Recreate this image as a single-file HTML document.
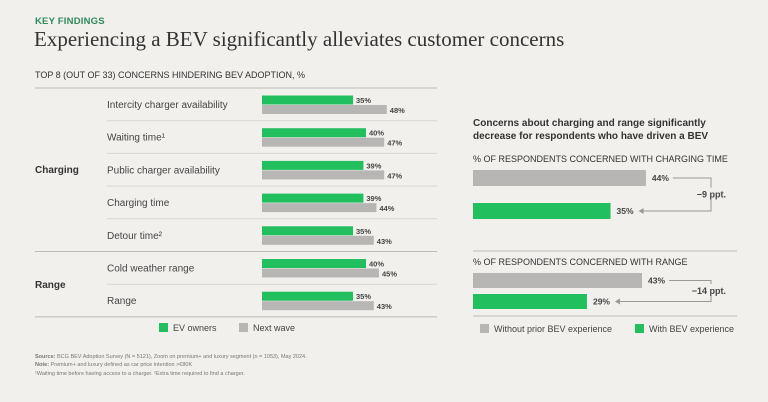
<!DOCTYPE html>
<html><head><meta charset="utf-8">
<style>
body{margin:0;background:#f2f0ed;font-family:"Liberation Sans",sans-serif;}
#root{position:relative;width:768px;height:402px;overflow:hidden;background:#f2f0ed;}
.t{position:absolute;white-space:nowrap;}
</style></head>
<body>
<div id="root">
<div class="t" style="left:35px;top:16px;font-size:9.5px;font-weight:bold;color:#2d8a5a;letter-spacing:0.2px">KEY FINDINGS</div>
<div class="t" style="left:34px;top:27px;font-family:'Liberation Serif',serif;font-size:21px;color:#333">Experiencing a BEV significantly alleviates customer concerns</div>
<div class="t" style="left:35px;top:70px;font-size:9px;color:#333">TOP 8 (OUT OF 33) CONCERNS HINDERING BEV ADOPTION, %</div>
<svg id="chart" width="768" height="402" style="position:absolute;left:0;top:0"></svg>
<div class="t" style="left:473px;top:117px;font-size:10px;font-weight:bold;color:#333;line-height:13px">Concerns about charging and range significantly<br>decrease for respondents who have driven a BEV</div>
<div class="t" style="left:473px;top:154px;font-size:9px;color:#333">% OF RESPONDENTS CONCERNED WITH CHARGING TIME</div>
<div class="t" style="left:473px;top:257px;font-size:9px;color:#333">% OF RESPONDENTS CONCERNED WITH RANGE</div>
<div class="t" style="left:35px;top:353px;font-size:5.5px;color:#777;line-height:8.3px"><b>Source:</b> BCG BEV Adoption Survey (N = 5121), Zoom on premium+ and luxury segment (n = 1053), May 2024.<br><b>Note:</b> Premium+ and luxury defined as car price intention &gt;€80K<br>¹Waiting time before having access to a charger. ²Extra time required to find a charger.</div>
</div>
<script>
const categories=["Intercity charger availability","Waiting time¹","Public charger availability","Charging time","Detour time²","Cold weather range","Range"];
const evOwners=[35,40,39,39,35,40,35];
const nextWave=[48,47,47,44,43,45,43];
const rightWithout=[44,43];
const rightWith=[35,29];
const rightDelta=["−9 ppt.","−14 ppt."];
const svg=document.getElementById('chart');
const NS='http://www.w3.org/2000/svg';
function mk(tag,attrs,name,text){const e=document.createElementNS(NS,tag);for(const k in attrs)e.setAttribute(k,attrs[k]);


if(text!==undefined)e.textContent=text;svg.appendChild(e);return e;}
const G='#22bf5f',Gr='#b7b6b4',L='#d8d6d3',D='#bdbbb8';
const x0=262,sx=v=>v*2.6;
const rowY=i=>88+32.7*i;
mk('line',{x1:35,x2:437,y1:88,y2:88,stroke:D,'stroke-width':1},'top-rule');
categories.forEach((c,i)=>{
  const y=rowY(i);
  mk('text',{x:107,y:y+20,'font-size':10,fill:'#444','font-family':'Liberation Sans'},'category-label',c);
  mk('rect',{x:x0,y:y+7.5,width:sx(evOwners[i]),height:9,fill:G},'bar-ev-owners');
  mk('rect',{x:x0,y:y+17,width:sx(nextWave[i]),height:9,fill:Gr},'bar-next-wave');
  mk('text',{x:x0+sx(evOwners[i])+3,y:y+15,'font-size':7.5,'font-weight':'bold',fill:'#444','font-family':'Liberation Sans'},'value-ev-owners',evOwners[i]+'%');
  mk('text',{x:x0+sx(nextWave[i])+3,y:y+25,'font-size':7.5,'font-weight':'bold',fill:'#444','font-family':'Liberation Sans'},'value-next-wave',nextWave[i]+'%');
  if(i<categories.length-1){
    const full=(i===4);
    mk('line',{x1:full?35:107,x2:437,y1:rowY(i+1),y2:rowY(i+1),stroke:full?D:L,'stroke-width':1},'row-separator');
  }
});
mk('line',{x1:35,x2:437,y1:rowY(7),y2:rowY(7),stroke:D,'stroke-width':1},'bottom-rule');
mk('text',{x:35,y:173,'font-size':10,'font-weight':'bold',fill:'#333','font-family':'Liberation Sans'},'group-charging','Charging');
mk('text',{x:35,y:288,'font-size':10,'font-weight':'bold',fill:'#333','font-family':'Liberation Sans'},'group-range','Range');
mk('rect',{x:159,y:323,width:9,height:9,fill:G},'legend-swatch-ev');
mk('text',{x:173,y:331,'font-size':9,fill:'#444','font-family':'Liberation Sans'},'legend-ev-owners','EV owners');
mk('rect',{x:239,y:323,width:9,height:9,fill:Gr},'legend-swatch-next');
mk('text',{x:253,y:331,'font-size':9,fill:'#444','font-family':'Liberation Sans'},'legend-next-wave','Next wave');
const rx=473,rs=v=>v*3.93;
const panels=[{gy:170,gh:16,wy:203,wh:16,bx:711},{gy:273,gh:15,wy:294,wh:15,bx:711}];
panels.forEach((p,i)=>{
  const a=rs(rightWithout[i]),b=rs(rightWith[i]);
  mk('rect',{x:rx,y:p.gy,width:a,height:p.gh,fill:Gr},'bar-without-experience');
  mk('rect',{x:rx,y:p.wy,width:b,height:p.wh,fill:G},'bar-with-experience');
  const ty1=p.gy+p.gh/2+3,ty2=p.wy+p.wh/2+3;
  mk('text',{x:rx+a+6,y:ty1,'font-size':8.5,'font-weight':'bold',fill:'#444','font-family':'Liberation Sans'},'value-without',rightWithout[i]+'%');
  mk('text',{x:rx+b+6,y:ty2,'font-size':8.5,'font-weight':'bold',fill:'#444','font-family':'Liberation Sans'},'value-with',rightWith[i]+'%');
  const ly1=ty1-3,ly2=ty2-3;
  mk('path',{d:`M${rx+a+27},${ly1} H${p.bx} V${ly2} H${rx+b+30}`,fill:'none',stroke:'#999','stroke-width':1},'delta-bracket');
  mk('path',{d:`M${rx+b+28},${ly2} l5,-3 v6 z`,fill:'#999'},'delta-arrowhead');
  mk('rect',{x:p.bx-40,y:(ly1+ly2)/2-7,width:44,height:12,fill:'#f2f0ed'},'delta-label-bg');
  mk('text',{x:p.bx+15,y:(ly1+ly2)/2+3,'font-size':9,'font-weight':'bold',fill:'#444','text-anchor':'end','font-family':'Liberation Sans'},'delta-label',rightDelta[i]);
});
mk('line',{x1:473,x2:737,y1:251,y2:251,stroke:D,'stroke-width':1},'right-divider');
mk('line',{x1:473,x2:737,y1:316,y2:316,stroke:D,'stroke-width':1},'right-bottom-rule');
mk('rect',{x:480,y:324,width:9,height:9,fill:Gr},'legend-swatch-without');
mk('text',{x:494,y:332,'font-size':9,fill:'#444','font-family':'Liberation Sans'},'legend-without','Without prior BEV experience');
mk('rect',{x:635,y:324,width:9,height:9,fill:G},'legend-swatch-with');
mk('text',{x:649,y:332,'font-size':9,fill:'#444','font-family':'Liberation Sans'},'legend-with','With BEV experience');
</script>
</body></html>
